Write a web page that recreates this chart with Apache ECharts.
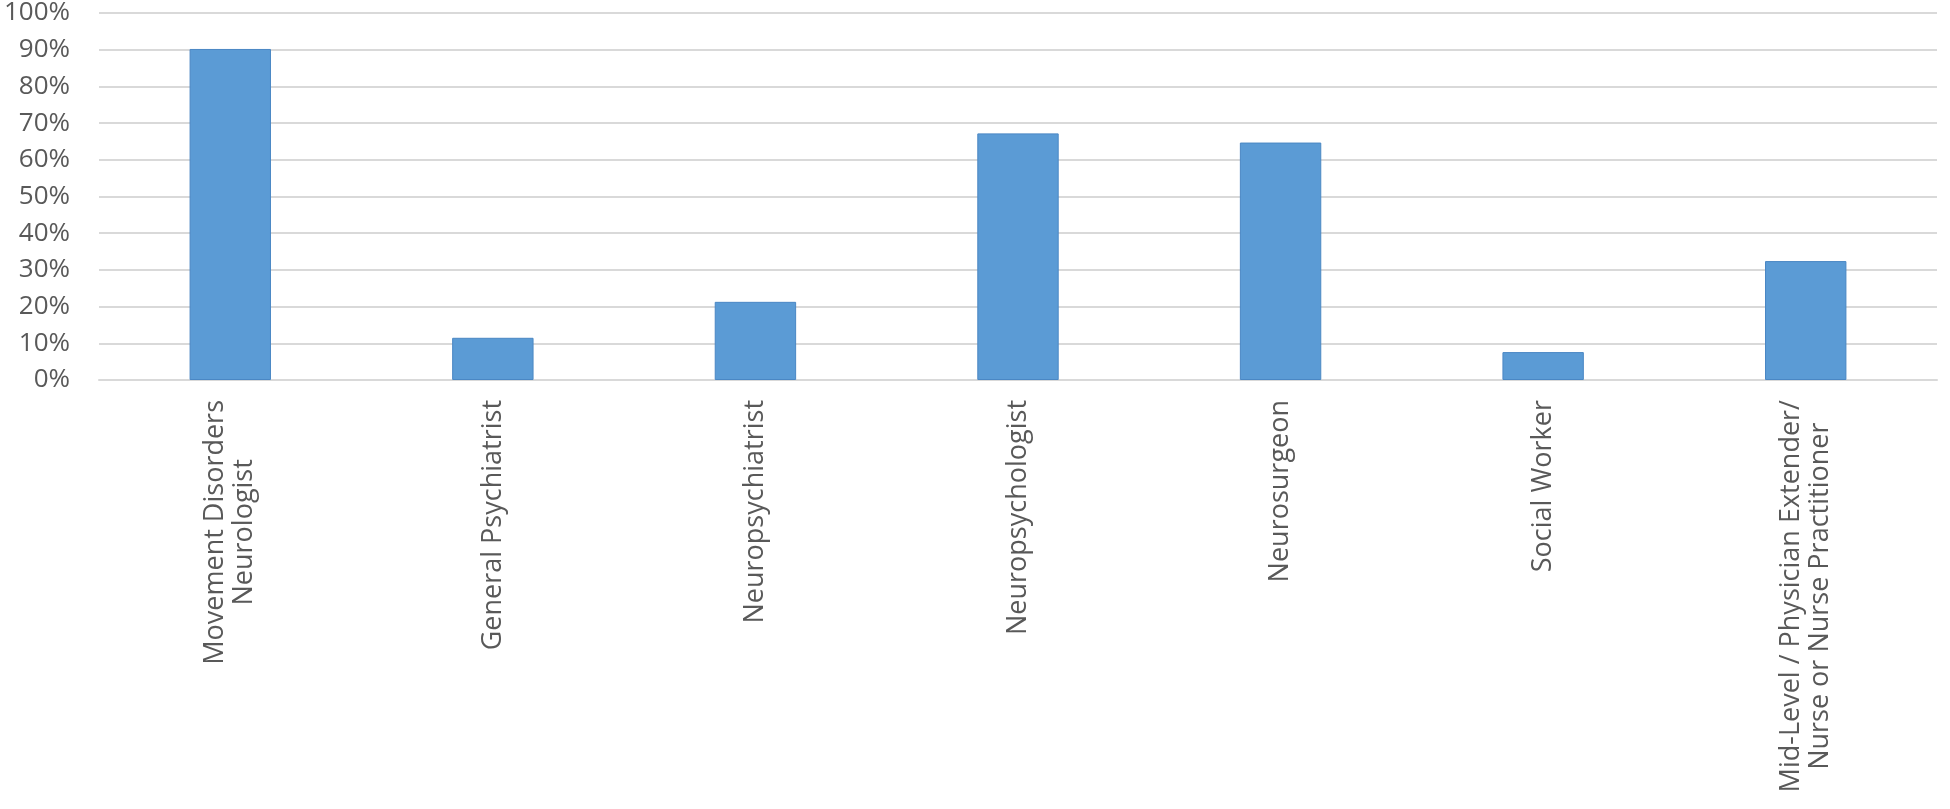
<!DOCTYPE html>
<html>
<head>
<meta charset="utf-8">
<script src="https://cdn.jsdelivr.net/npm/echarts@6/dist/echarts.min.js"></script>
<style>
html,body{margin:0;padding:0;background:#fff;}
#chart{width:1950px;height:809px;}
</style>
</head>
<body>
<div id="chart"></div>
<script>
const categories = [
  "Movement Disorders\nNeurologist",
  "General Psychiatrist",
  "Neuropsychiatrist",
  "Neuropsychologist",
  "Neurosurgeon",
  "Social Worker",
  "Mid-Level / Physician Extender/\nNurse or Nurse Practitioner"
];
const values = [90.2, 11.5, 21.3, 67.2, 64.7, 7.6, 32.4];
const yTicks = [0, 10, 20, 30, 40, 50, 60, 70, 80, 90, 100];

const chart = echarts.init(document.getElementById('chart'));
chart.setOption({
  animation: false,
  grid: { left: 99, right: 13, top: 12.5, bottom: 429, containLabel: false },
  xAxis: {
    type: 'category',
    data: categories,
    axisLine: { show: true, lineStyle: { color: '#d9d9d9', width: 2 } },
    axisTick: { show: false },
    axisLabel: {
      rotate: 90,
      interval: 0,
      margin: 20,
      color: '#595959',
      fontFamily: 'Open Sans',
      fontSize: 27,
      lineHeight: 29,
      align: 'right',
      formatter: v => v.split('\n').map(s => '{c|' + s + '}').join('\n'),
      rich: {
        c: {
          align: 'center',
          color: '#595959',
          fontFamily: 'Open Sans',
          fontSize: 27,
          lineHeight: 29
        }
      }
    }
  },
  yAxis: {
    type: 'value',
    min: yTicks[0],
    max: yTicks[yTicks.length - 1],
    interval: 10,
    axisLine: { show: false },
    axisTick: { show: false },
    splitLine: { lineStyle: { color: '#d9d9d9', width: 2 } },
    axisLabel: {
      margin: 29,
      color: '#595959',
      fontFamily: 'Open Sans',
      fontSize: 26,
      formatter: v => v + '%'
    }
  },
  series: [{
    type: 'bar',
    data: values,
    barWidth: '31%',
    itemStyle: { color: '#5B9BD5', borderColor: '#4A87C4', borderWidth: 1 }
  }]
});
</script>
</body>
</html>
